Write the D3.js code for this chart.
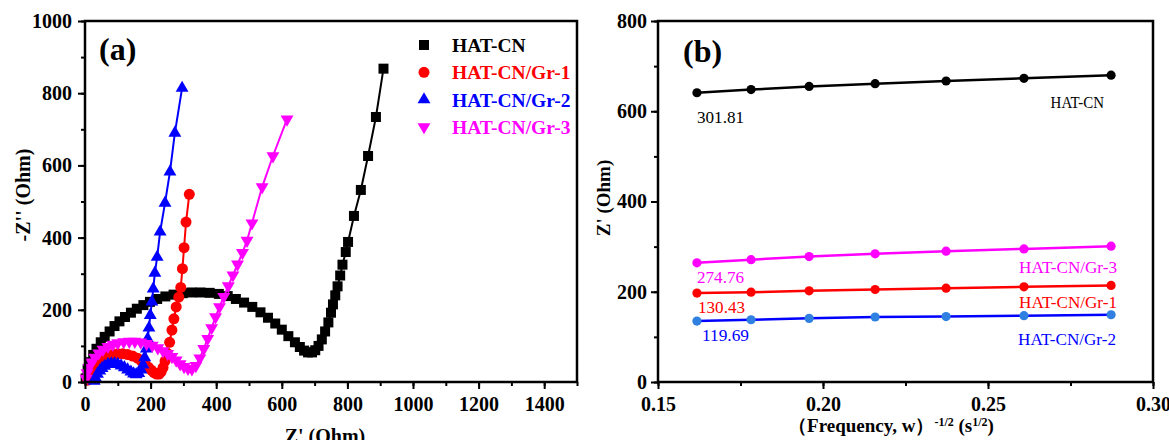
<!DOCTYPE html>
<html>
<head>
<meta charset="utf-8">
<script src="https://cdn.jsdelivr.net/npm/d3@7"></script>
<style>
  body { margin: 0; background: #fff; }
  svg { display: block; }
  text { font-family: "Liberation Serif", "Times New Roman", serif; }
  .tick text { font-size: 20px; font-weight: bold; fill: #000; }
  .domain { display: none; }
  .tick line { stroke: #000; stroke-width: 2; }
</style>
</head>
<body>
<svg id="chart" width="1169" height="440"></svg>
<script>
// ---- panel (a): Nyquist plots, [Z', -Z''] in Ohm
var nyquistNames = ["HAT-CN", "HAT-CN/Gr-1", "HAT-CN/Gr-2", "HAT-CN/Gr-3"];
var nyquistColors = ["#000000", "#ff0000", "#0000ff", "#ff00ff"];

var hatcn = [[2,10],[8,35],[15,55],[25,75],[35,92],[48,110],[60,125],[75,140],[90,155],[105,168],
  [122,180],[140,192],[158,203],[178,213],[198,222],[220,230],[245,237],[270,242],[298,246],[325,248],
  [352,248],[380,247],[408,244],[435,238],[460,230],[485,220],[510,208],[535,193],[558,178],[580,162],
  [600,145],[620,127],[640,110],[655,97],[668,87],[680,82],[692,82],[702,88],[712,100],[722,118],
  [732,140],[742,165],[750,192],[756,215],[763,240],[770,265],[778,295],[785,325],[795,360],[802,388],
  [820,460],[841,532],[863,626],[887,734],[910,868]];
var gr1 = [[8,5],[12,20],[20,36],[30,48],[42,58],[55,66],[70,72],[85,76],[100,78],[115,78],
  [130,76],[145,72],[160,66],[172,58],[183,50],[193,41],[202,33],[210,26],[218,22],[226,22],
  [232,28],[238,40],[244,58],[250,80],[258,110],[265,144],[271,175],[278,208],[286,235],[292,262],
  [297,314],[302,372],[308,443],[318,520]];
var gr2 = [[28,3],[32,12],[38,22],[45,31],[52,38],[60,44],[70,49],[80,51],[90,51],[100,49],
  [110,45],[120,40],[130,34],[140,28],[148,23],[156,21],[164,24],[171,34],[177,48],[182,68],
  [187,92],[191,120],[195,150],[199,185],[204,222],[208,258],[213,302],[220,346],[229,416],[244,496],
  [259,582],[274,690],[296,814]];
var gr3 = [[3,10],[6,25],[12,40],[20,55],[30,68],[42,80],[55,90],[70,98],[85,104],[100,108],
  [118,111],[135,112],[152,112],[170,110],[188,106],[205,101],[222,94],[238,86],[252,78],[265,70],
  [278,60],[290,50],[302,42],[314,37],[326,36],[338,45],[350,66],[362,92],[374,120],[386,150],
  [398,180],[410,208],[423,236],[437,266],[451,296],[465,326],[480,358],[494,392],[509,440],[540,540],
  [573,626],[616,728]];
var nyquistData = [hatcn, gr1, gr2, gr3];

var xTicksA = [0, 200, 400, 600, 800, 1000, 1200, 1400];
var yTicksA = [0, 200, 400, 600, 800, 1000];

// ---- panel (b): Z' vs frequency^-1/2
var freqX = [0.1618, 0.1782, 0.1958, 0.2158, 0.2373, 0.2609, 0.2873];
var zHatcn = [641, 648, 655, 661, 667, 673, 680];
var zGr3 = [264, 271, 278, 284, 290, 295, 301];
var zGr1 = [197, 199, 202, 205, 208, 211, 214];
var zGr2 = [135, 138, 141, 144, 145, 147, 149];
var warburgSeries = [zHatcn, zGr3, zGr1, zGr2];
var warburgNames = ["HAT-CN", "HAT-CN/Gr-3", "HAT-CN/Gr-1", "HAT-CN/Gr-2"];
var warburgSlopes = ["301.81", "274.76", "130.43", "119.69"];
var warburgLine = ["#000000", "#ff00ff", "#ff0000", "#0000ff"];
var warburgDot = ["#000000", "#ff00ff", "#ff0000", "#2f80e0"];

var xTicksB = [0.15, 0.20, 0.25, 0.30];
var yTicksB = [0, 200, 400, 600, 800];

var svg = d3.select("#chart");

function frame(g, x, y) {
  g.append("rect")
    .attr("x", x.range()[0]).attr("y", y.range()[1])
    .attr("width", x.range()[1] - x.range()[0])
    .attr("height", y.range()[0] - y.range()[1])
    .attr("fill", "none").attr("stroke", "#000").attr("stroke-width", 2.5);
}

function axes(g, x, y, xt, yt, xMinor, yMinor, xfmt, yPad) {
  var h = y.range()[0];
  var l = x.range()[0];
  g.append("g").attr("transform", "translate(0," + h + ")")
    .call(d3.axisBottom(x).tickValues(xMinor).tickSize(4).tickFormat(""));
  g.append("g").attr("transform", "translate(" + l + ",0)")
    .call(d3.axisLeft(y).tickValues(yMinor).tickSize(4).tickFormat(""));
  g.append("g").attr("transform", "translate(0," + h + ")")
    .call(d3.axisBottom(x).tickValues(xt).tickSize(7).tickPadding(8).tickFormat(xfmt));
  g.append("g").attr("transform", "translate(" + l + ",0)")
    .call(d3.axisLeft(y).tickValues(yt).tickSize(7).tickPadding(yPad).tickFormat(d3.format("d")));
}

// ================= panel (a)
var xA = d3.scaleLinear().domain([0, 1500]).range([85, 577]);
var yA = d3.scaleLinear().domain([0, 1000]).range([382, 21]);
var gA = svg.append("g");

var symbolsA = [
  d3.symbol().type(d3.symbolSquare).size(100),
  d3.symbol().type(d3.symbolCircle).size(95),
  d3.symbol().type(d3.symbolTriangle).size(72),
  d3.symbol().type(d3.symbolTriangle).size(72)
];
var lineA = d3.line().x(function(d) { return xA(d[0]); }).y(function(d) { return yA(d[1]); });

nyquistData.forEach(function(series, i) {
  var s = gA.append("g");
  s.append("path").datum(series)
    .attr("d", lineA).attr("fill", "none")
    .attr("stroke", nyquistColors[i]).attr("stroke-width", 2);
  s.selectAll("path.pt").data(series).enter().append("path")
    .attr("class", "pt")
    .attr("d", symbolsA[i])
    .attr("transform", function(d) {
      return "translate(" + xA(d[0]) + "," + yA(d[1]) + ")" + (i === 3 ? " rotate(180)" : "");
    })
    .attr("fill", nyquistColors[i]);
});

axes(gA, xA, yA, xTicksA, yTicksA, d3.range(0, 1501, 100), d3.range(0, 1001, 100), d3.format("d"), 6);
frame(gA, xA, yA);

// legend
var legA = gA.append("g");
nyquistNames.forEach(function(name, i) {
  var ly = 45 + i * 27.3;
  legA.append("path").attr("d", symbolsA[i])
    .attr("transform", "translate(424," + ly + ")" + (i === 3 ? " rotate(180)" : ""))
    .attr("fill", nyquistColors[i]);
  legA.append("text").attr("x", 452).attr("y", ly + 7)
    .attr("font-size", 19.5).attr("font-weight", "bold")
    .attr("fill", nyquistColors[i]).text(name);
});

gA.append("text").attr("x", 99).attr("y", 60)
  .attr("font-size", 32).attr("font-weight", "bold").text("(a)");
gA.append("text").attr("x", 325).attr("y", 443).attr("text-anchor", "middle")
  .attr("font-size", 20).attr("font-weight", "bold").text("Z' (Ohm)");
gA.append("text").attr("transform", "translate(30,195) rotate(-90)").attr("text-anchor", "middle")
  .attr("font-size", 20).attr("font-weight", "bold").text("-Z'' (Ohm)");

// ================= panel (b)
var xB = d3.scaleLinear().domain([0.15, 0.30]).range([658, 1153]);
var yB = d3.scaleLinear().domain([0, 800]).range([382, 21]);
var gB = svg.append("g");

warburgSeries.forEach(function(vals, i) {
  var pts = vals.map(function(v, j) { return [freqX[j], v]; });
  var s = gB.append("g");
  s.append("path").datum(pts)
    .attr("d", d3.line().x(function(d) { return xB(d[0]); }).y(function(d) { return yB(d[1]); }))
    .attr("fill", "none").attr("stroke", warburgLine[i]).attr("stroke-width", 2.5);
  s.selectAll("circle").data(pts).enter().append("circle")
    .attr("cx", function(d) { return xB(d[0]); })
    .attr("cy", function(d) { return yB(d[1]); })
    .attr("r", 4.6).attr("fill", warburgDot[i]);
});

axes(gB, xB, yB, xTicksB, yTicksB, d3.range(0, 7).map(function(k) { return 0.15 + k * 0.025; }),
  d3.range(0, 801, 100), d3.format(".2f"), 4);
frame(gB, xB, yB);

// slope labels (left) and series names (right)
var slopeY = [123, 283, 313, 341];
var slopeX = [697, 697, 698, 702];
var nameY = [108, 273, 308, 345];
var nameRight = [1104, 1117, 1117, 1116];
warburgSeries.forEach(function(vals, i) {
  gB.append("text").attr("x", slopeX[i]).attr("y", slopeY[i])
    .attr("font-size", 16).attr("fill", warburgLine[i])
    .attr("textLength", 47).attr("lengthAdjust", "spacingAndGlyphs")
    .text(warburgSlopes[i]);
  gB.append("text").attr("x", nameRight[i]).attr("y", nameY[i]).attr("text-anchor", "end")
    .attr("font-size", 17).attr("fill", warburgLine[i])
    .attr("textLength", warburgNames[i].length * 8.9).attr("lengthAdjust", "spacingAndGlyphs")
    .text(warburgNames[i]);
});

gB.append("text").attr("x", 683).attr("y", 62)
  .attr("font-size", 32).attr("font-weight", "bold").text("(b)");

var xl = gB.append("text").attr("x", 891).attr("y", 432).attr("text-anchor", "middle")
  .attr("font-size", 19).attr("font-weight", "bold");
xl.append("tspan").text("（Frequency, w）");
xl.append("tspan").attr("dy", -6).attr("font-size", 12).text("-1/2");
xl.append("tspan").attr("dy", 6).text(" (s");
xl.append("tspan").attr("dy", -6).attr("font-size", 12).text("1/2");
xl.append("tspan").attr("dy", 6).text(")");

gB.append("text").attr("transform", "translate(610,198) rotate(-90)").attr("text-anchor", "middle")
  .attr("font-size", 19).attr("font-weight", "bold").text("Z' (Ohm)");
</script>
</body>
</html>
